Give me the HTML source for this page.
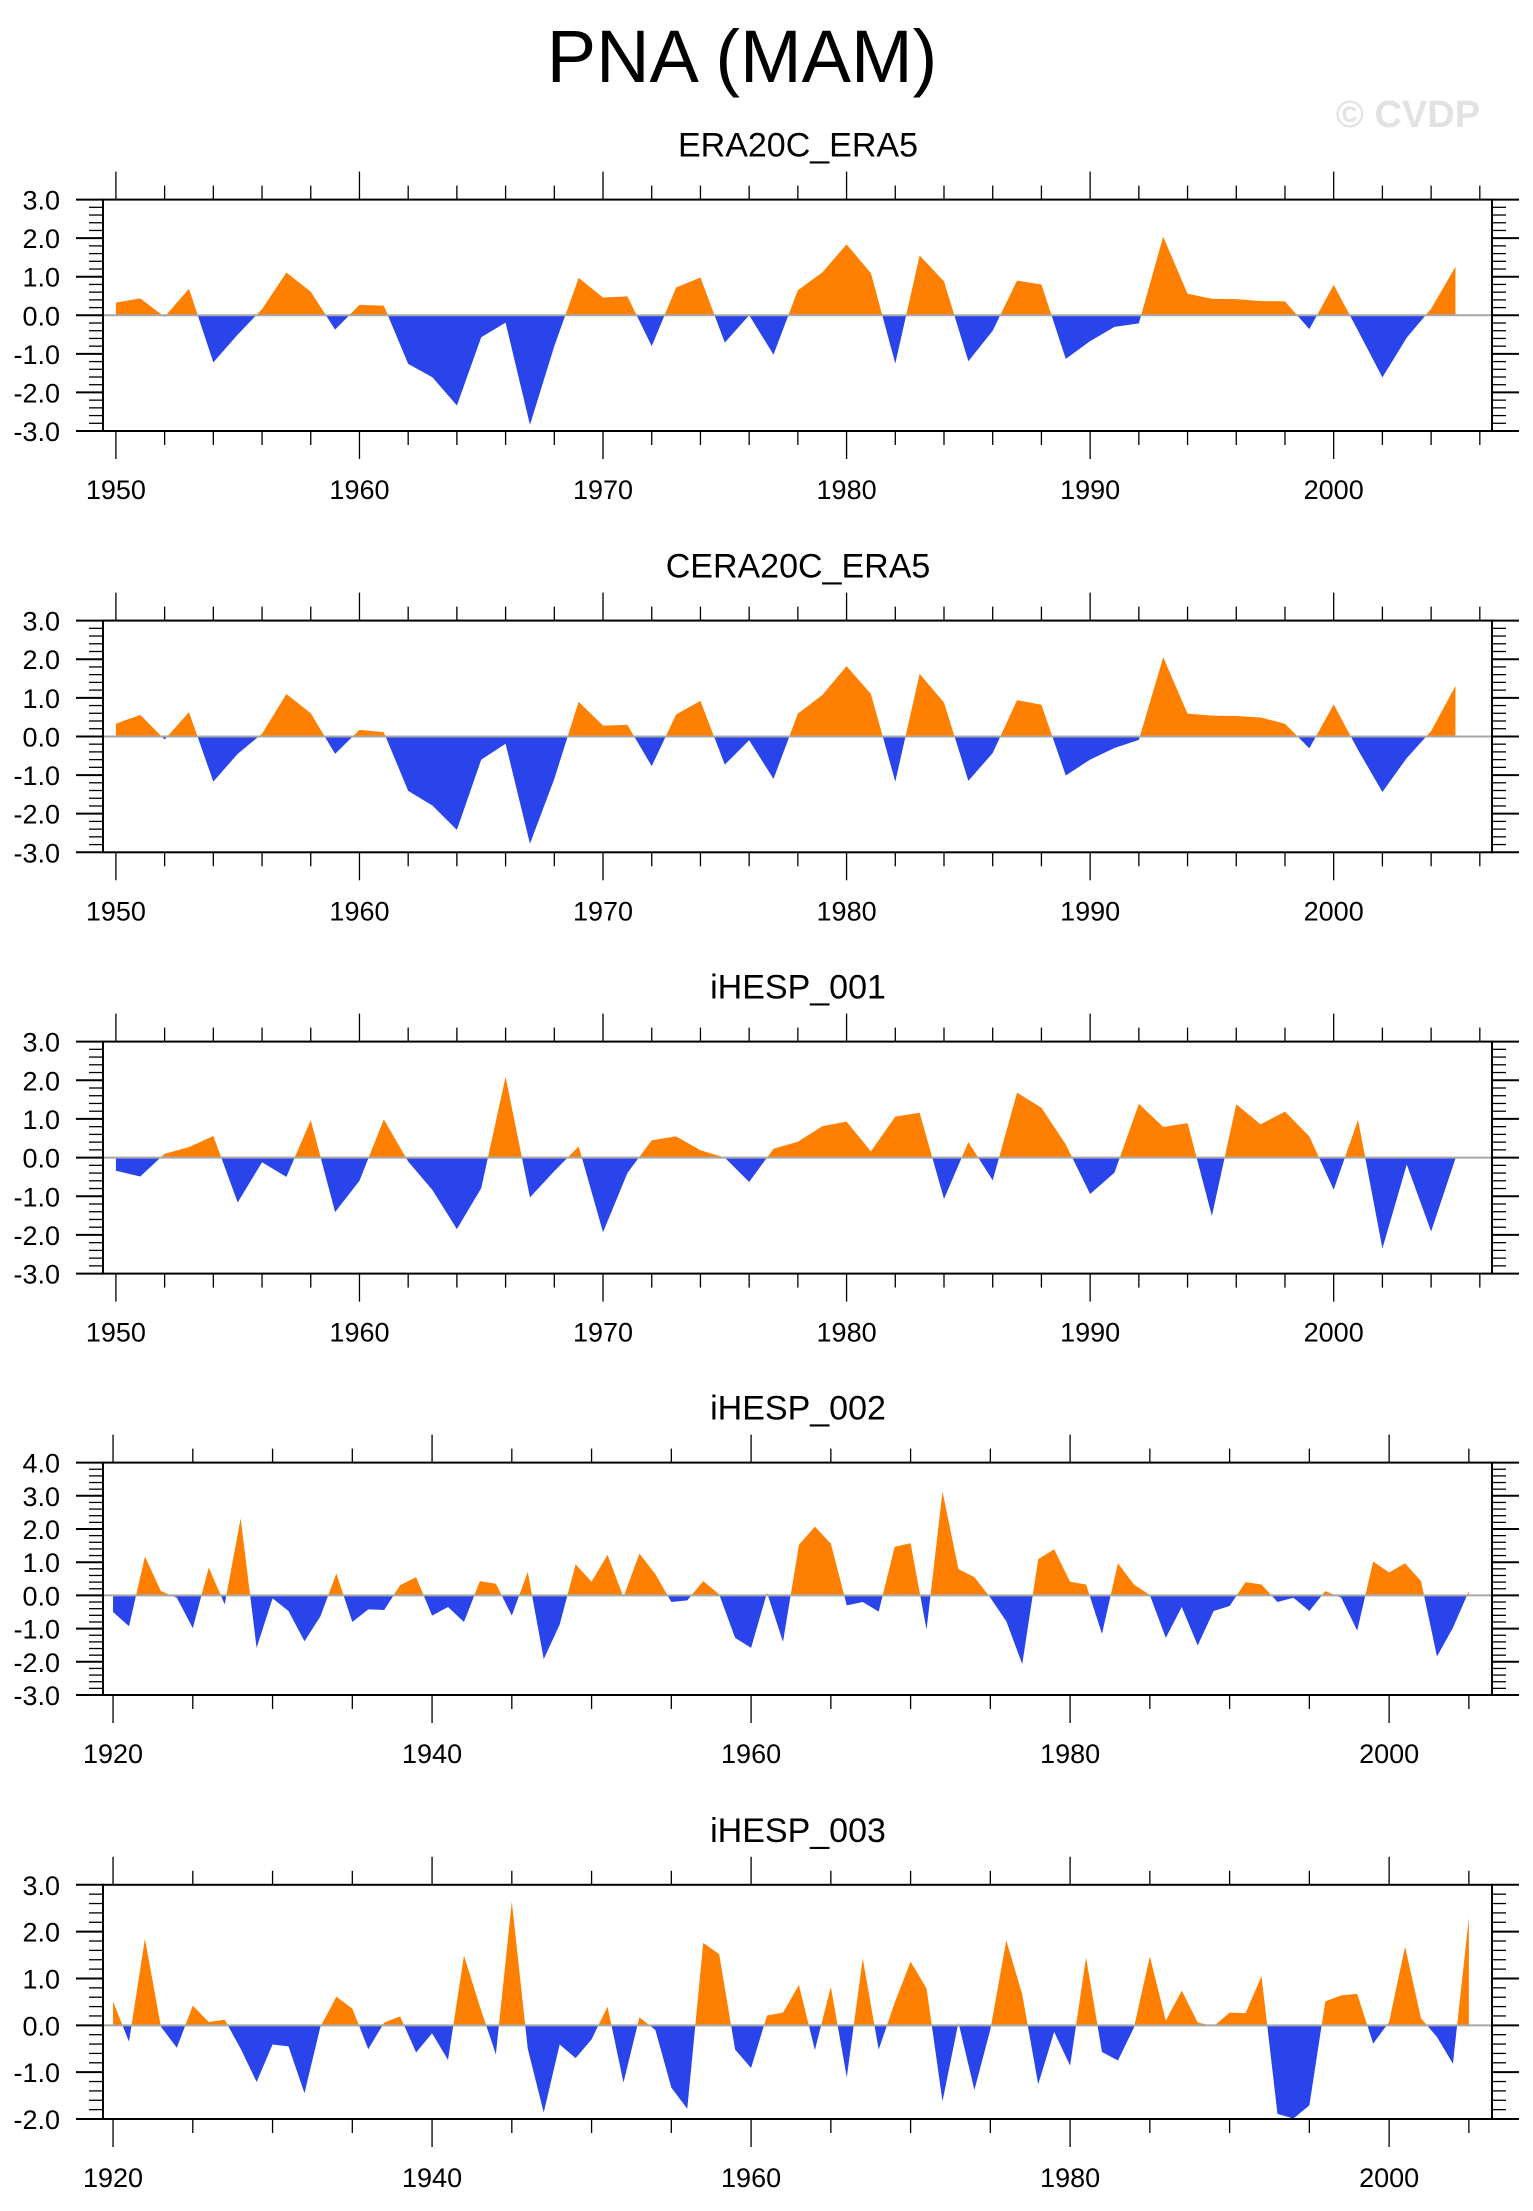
<!DOCTYPE html>
<html><head><meta charset="utf-8"><style>
html,body{margin:0;padding:0;background:#fff;}
svg{display:block;font-family:"Liberation Sans",sans-serif;}
</style></head><body>
<svg id="chart" width="1533" height="2211" viewBox="0 0 1533 2211" xmlns="http://www.w3.org/2000/svg">
<text x="742" y="82" font-size="74" text-anchor="middle" fill="#000">PNA (MAM)</text>
<text x="1408" y="127" font-size="38" font-weight="bold" text-anchor="middle" fill="#e2e2e2">© CVDP</text>
</svg>
<script>
const titles = ["ERA20C_ERA5","CERA20C_ERA5","iHESP_001","iHESP_002","iHESP_003"];
const startYears = [1950,1950,1950,1920,1920];
const era20cValues = [0.33,0.44,-0.04,0.69,-1.22,-0.5,0.16,1.11,0.61,-0.37,0.27,0.25,-1.26,-1.61,-2.34,-0.57,-0.19,-2.84,-0.8,0.97,0.46,0.49,-0.8,0.72,0.98,-0.71,0.0,-1.02,0.65,1.11,1.84,1.09,-1.25,1.55,0.88,-1.19,-0.4,0.9,0.8,-1.13,-0.67,-0.3,-0.21,2.04,0.56,0.43,0.42,0.37,0.36,-0.36,0.79,-0.4,-1.61,-0.58,0.17,1.26];
const cera20cValues = [0.33,0.56,-0.08,0.63,-1.17,-0.45,0.07,1.1,0.6,-0.45,0.17,0.11,-1.41,-1.79,-2.42,-0.6,-0.19,-2.78,-1.1,0.9,0.28,0.3,-0.77,0.57,0.92,-0.73,-0.1,-1.1,0.59,1.07,1.82,1.1,-1.17,1.62,0.88,-1.15,-0.43,0.94,0.82,-1.01,-0.6,-0.3,-0.09,2.05,0.59,0.54,0.53,0.49,0.33,-0.31,0.83,-0.35,-1.44,-0.56,0.14,1.31];
const ihesp001Values = [-0.34,-0.49,0.1,0.27,0.56,-1.16,-0.12,-0.5,0.97,-1.41,-0.6,0.99,-0.1,-0.84,-1.85,-0.79,2.09,-1.03,-0.35,0.29,-1.93,-0.4,0.45,0.55,0.19,0.0,-0.63,0.23,0.41,0.81,0.93,0.16,1.06,1.16,-1.07,0.4,-0.59,1.68,1.29,0.34,-0.94,-0.39,1.39,0.79,0.89,-1.51,1.38,0.86,1.19,0.55,-0.83,0.98,-2.35,-0.18,-1.91,-0.02];
const ihesp002Values = [-0.5,-0.93,1.17,0.13,-0.07,-0.99,0.84,-0.27,2.32,-1.58,-0.09,-0.47,-1.38,-0.63,0.66,-0.8,-0.42,-0.44,0.31,0.55,-0.61,-0.35,-0.8,0.43,0.35,-0.61,0.71,-1.92,-0.88,0.94,0.41,1.22,-0.05,1.26,0.64,-0.2,-0.15,0.43,0.03,-1.28,-1.58,0.08,-1.4,1.52,2.07,1.56,-0.3,-0.2,-0.49,1.46,1.57,-1.03,3.13,0.79,0.55,-0.07,-0.78,-2.07,1.09,1.39,0.41,0.33,-1.16,0.97,0.33,0.01,-1.28,-0.35,-1.51,-0.47,-0.32,0.4,0.33,-0.2,-0.07,-0.47,0.13,-0.07,-1.06,1.02,0.69,0.97,0.43,-1.84,-0.98,0.13];
const ihesp003Values = [0.51,-0.35,1.85,-0.03,-0.48,0.42,0.07,0.12,-0.5,-1.21,-0.41,-0.45,-1.45,-0.03,0.61,0.36,-0.51,0.06,0.19,-0.58,-0.17,-0.74,1.49,0.4,-0.62,2.64,-0.5,-1.86,-0.41,-0.7,-0.3,0.4,-1.22,0.17,-0.1,-1.33,-1.78,1.76,1.52,-0.52,-0.91,0.21,0.27,0.86,-0.53,0.82,-1.11,1.43,-0.52,0.48,1.36,0.79,-1.62,0.06,-1.38,-0.09,1.81,0.66,-1.26,-0.14,-0.86,1.45,-0.57,-0.75,-0.05,1.47,0.1,0.74,0.06,-0.02,0.27,0.26,1.05,-1.89,-1.99,-1.71,0.51,0.64,0.67,-0.39,0.07,1.68,0.15,-0.25,-0.82,2.3];
const yTicksA = [3,2,1,0,-1,-2,-3];
const yTicksB = [4,3,2,1,0,-1,-2,-3];
const yTicksC = [3,2,1,0,-1,-2];
const xTicksA = [1950,1960,1970,1980,1990,2000];
const xTicksB = [1920,1940,1960,1980,2000];

const series = [era20cValues,cera20cValues,ihesp001Values,ihesp002Values,ihesp003Values];
const yTickSets = [yTicksA,yTicksA,yTicksA,yTicksB,yTicksC];
const xTickSets = [xTicksA,xTicksA,xTicksA,xTicksB,xTicksB];
const boxTops = [199.6,620.6,1041.6,1462.6,1884.8];
const boxBots = [431,852.3,1273.6,1695,2119];
const xDomains = [[1949.47,2006.5],[1949.47,2006.5],[1949.47,2006.5],[1919.37,2006.45],[1919.37,2006.45]];
const minorX = [2,2,2,5,5];
const NS = "http://www.w3.org/2000/svg";
const svg = document.getElementById("chart");
const L = 103, R = 1492;
function mk(tag, attrs, parent){const e=document.createElementNS(NS,tag);for(const k in attrs)e.setAttribute(k,attrs[k]);(parent||svg).appendChild(e);return e;}

for (let p=0;p<5;p++){
  const vals = series[p], yt = yTickSets[p], top = boxTops[p], bot = boxBots[p];
  const ymax = yt[0], ymin = yt[yt.length-1];
  const [x0,x1] = xDomains[p];
  const xs = v => L + (v-x0)/(x1-x0)*(R-L);
  const ys = v => top + (ymax-v)/(ymax-ymin)*(bot-top);
  const g = mk("g",{});
  
  
  const t = mk("text",{x:798,y:top-43,"font-size":34,"text-anchor":"middle",fill:"#000"},g);
  t.textContent = titles[p];
  
  
  const y0 = ys(0);
  const cpU = mk("clipPath",{id:"up"+p},g); mk("rect",{x:L,y:top,width:R-L,height:y0-top},cpU);
  const cpD = mk("clipPath",{id:"dn"+p},g); mk("rect",{x:L,y:y0,width:R-L,height:bot-y0},cpD);
  let pts = xs(startYears[p])+","+y0+" ";
  vals.forEach((v,i)=>{pts += xs(startYears[p]+i)+","+ys(v)+" ";});
  pts += xs(startYears[p]+vals.length-1)+","+y0;
  const pu = mk("polygon",{points:pts,fill:"#ff8000","clip-path":"url(#up"+p+")"},g);
  
  
  const pd = mk("polygon",{points:pts,fill:"#2a44ec","clip-path":"url(#dn"+p+")"},g);
  
  
  const zl = mk("line",{x1:L,x2:R,y1:y0,y2:y0,stroke:"#a8a8a8","stroke-width":2},g);
  
  
  const bx = mk("rect",{x:L,y:top,width:R-L,height:bot-top,fill:"none",stroke:"#000","stroke-width":2},g);
  
  
  for (let v=ymin; v<=ymax+1e-6; v+=0.2){
    const yy = ys(v); const major = Math.abs(v-Math.round(v))<1e-6; const len = major?27:14;
    mk("line",{x1:L-len,x2:L,y1:yy,y2:yy,stroke:"#000","stroke-width":major?2:1.3},g);
    mk("line",{x1:R,x2:R+len,y1:yy,y2:yy,stroke:"#000","stroke-width":major?2:1.3},g);
  }
  yt.forEach(v=>{
    const lb = mk("text",{x:60,y:ys(v)+10,"font-size":27,"text-anchor":"end",fill:"#000"},g);
    lb.textContent = v.toFixed(1);
    
    
  });
  const majStep = xTickSets[p][1]-xTickSets[p][0];
  for (let yr=Math.ceil(x0); yr<=x1; yr++){
    if (yr % minorX[p] !== 0) continue;
    const major = (yr - xTickSets[p][0]) % majStep === 0;
    const len = major?28:14, xx = xs(yr);
    mk("line",{x1:xx,x2:xx,y1:top-len,y2:top,stroke:"#000","stroke-width":1.3},g);
    mk("line",{x1:xx,x2:xx,y1:bot,y2:bot+len,stroke:"#000","stroke-width":1.3},g);
  }
  xTickSets[p].forEach(yr=>{
    const lb = mk("text",{x:xs(yr),y:bot+68,"font-size":27,"text-anchor":"middle",fill:"#000"},g);
    lb.textContent = yr;
    
    
  });
}
</script>
</body></html>
